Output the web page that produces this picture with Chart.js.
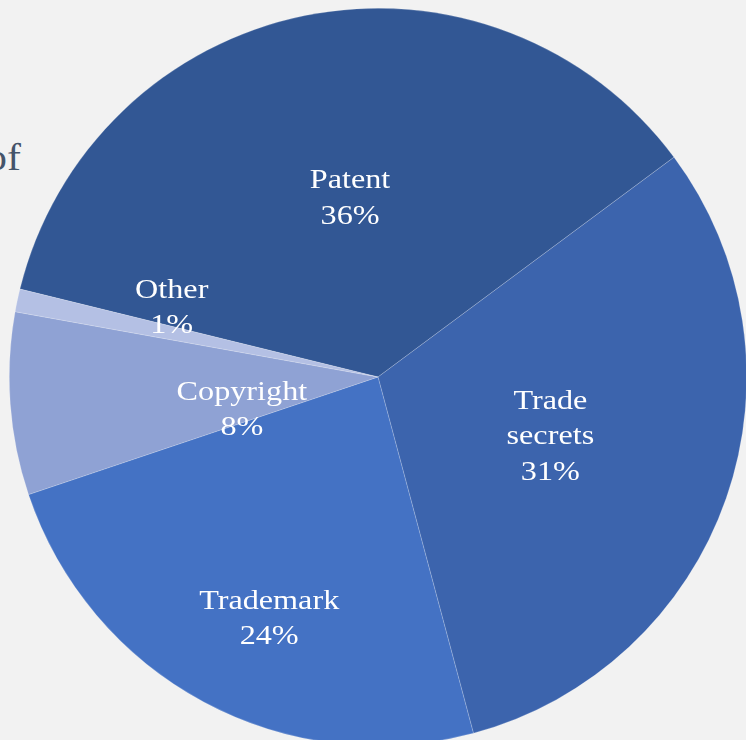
<!DOCTYPE html>
<html lang="en">
<head>
<meta charset="UTF-8">
<title>IP protection pie</title>
<script src="https://cdn.jsdelivr.net/npm/chart.js@4/dist/chart.umd.min.js"></script>
<style>
  html, body {
    margin: 0;
    padding: 0;
    width: 746px;
    height: 740px;
    overflow: hidden;
    background: #f2f2f2;
  }
  .title {
    position: absolute;
    left: -14px;
    top: 138px;
    font-family: "Liberation Serif", "DejaVu Serif", serif;
    font-size: 38px;
    color: #44546a;
    line-height: 1;
    transform: scaleX(1.1);
    transform-origin: left top;
  }
  .wrap {
    position: absolute;
    left: 9px;
    top: 8px;
    width: 738px;
    height: 738px;
  }
</style>
</head>
<body>
<div class="title">of</div>
<div class="wrap"><canvas id="chart"></canvas></div>
<script>
// chart data
const categories = ['Patent', 'Trade secrets', 'Trademark', 'Copyright', 'Other'];
const shares = [36, 31, 24, 8, 1];
const sliceColors = ['#325794', '#3c64ad', '#4472c4', '#8fa2d4', '#b4c0e4'];

// label placement: fraction of radius and angle nudge (degrees)
const labelPlace = [
  { r: 0.49, nudge: 2.5 },
  { r: 0.495, nudge: 0 },
  { r: 0.72, nudge: -4 },
  { r: 0.38, nudge: -9.5 },
  { r: 0.59, nudge: 6.5 },
];

// draws the category name and percentage inside each slice
const sliceLabels = {
  id: 'sliceLabels',
  afterDatasetsDraw(chart) {
    const ctx = chart.ctx;
    const meta = chart.getDatasetMeta(0);
    ctx.save();
    ctx.fillStyle = '#ffffff';
    ctx.font = '28px "Liberation Serif", "DejaVu Serif", serif';
    ctx.textAlign = 'center';
    ctx.textBaseline = 'middle';
    meta.data.forEach((arc, i) => {
      const p = arc.getProps(['x', 'y', 'startAngle', 'endAngle', 'outerRadius']);
      const mid = (p.startAngle + p.endAngle) / 2 + labelPlace[i].nudge * Math.PI / 180;
      const rr = p.outerRadius * labelPlace[i].r;
      const cx = p.x + Math.cos(mid) * rr;
      const cy = p.y + Math.sin(mid) * rr;
      const lines = categories[i] === 'Trade secrets' ? ['Trade', 'secrets'] : [categories[i]];
      lines.push(shares[i] + '%');
      const lh = 35.5;
      const top = cy - (lines.length - 1) * lh / 2;
      lines.forEach((t, k) => {
        // the original face is wider than Times, so stretch a little
        ctx.save();
        ctx.translate(cx, top + k * lh);
        ctx.scale(1.15, 1);
        ctx.fillText(t, 0, 0);
        ctx.restore();
      });
    });
    ctx.restore();
  },
};

new Chart(document.getElementById('chart'), {
  type: 'pie',
  data: {
    labels: categories,
    datasets: [{
      data: shares,
      backgroundColor: sliceColors,
      borderColor: 'rgba(255,255,255,0.3)',
      borderWidth: 0.6,
    }],
  },
  options: {
    responsive: true,
    maintainAspectRatio: true,
    animation: false,
    rotation: -76.2,
    layout: { padding: 0 },
    plugins: {
      legend: { display: false },
      tooltip: { enabled: false },
    },
  },
  plugins: [sliceLabels],
});
</script>
</body>
</html>
